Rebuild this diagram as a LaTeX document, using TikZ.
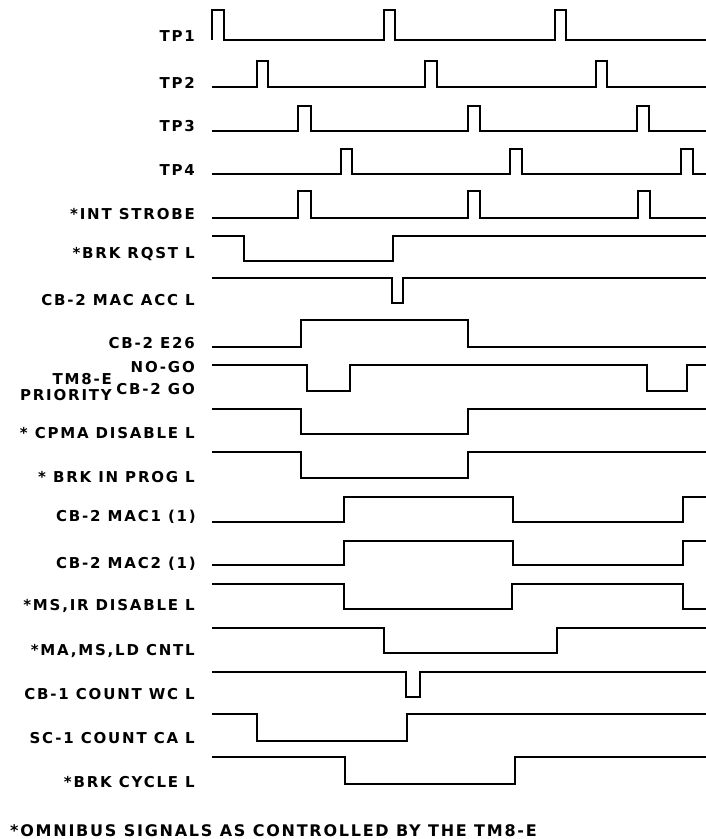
\documentclass[tikz,border=0pt]{standalone}
\usepackage{fontspec}
\newfontfamily\lblfam{DejaVu Sans}[LetterSpace=12]
\newfontfamily\notefam{DejaVu Sans}[LetterSpace=11]
\begin{document}
\begin{tikzpicture}[x=1pt,y=-1pt,
  sig/.style={line width=2.8pt, line join=miter},
  lbl/.style={anchor=base east, inner sep=0pt, font=\fontsize{15}{17}\selectfont\lblfam\bfseries},
  note/.style={anchor=base west, inner sep=0pt, font=\fontsize{16}{19}\selectfont\notefam\bfseries}]
\useasboundingbox (0,0) rectangle (706,839);
% labels
\node[lbl] (l1) at (195,41) {TP1};
\node[lbl] (l2) at (195,88) {TP2};
\node[lbl] (l3) at (195,131) {TP3};
\node[lbl] (l4) at (195,175) {TP4};
\node[lbl] (l5) at (195,219) {*INT STROBE};
\node[lbl] (l6) at (195,258) {*BRK RQST L};
\node[lbl] (l7) at (195,305) {CB-2 MAC ACC L};
\node[lbl] (l8) at (195,348) {CB-2 E26};
\node[lbl] (l9a) at (195,372) {NO-GO};
\node[lbl] (l9b) at (195,394) {CB-2 GO};
\node[lbl] (l9c) at (112,384) {TM8-E};
\node[lbl] (l9d) at (112,400) {PRIORITY};
\node[lbl] (l10) at (195,438) {* CPMA DISABLE L};
\node[lbl] (l11) at (195,482) {* BRK IN PROG L};
\node[lbl] (l12) at (196,521) {CB-2 MAC1 (1)};
\node[lbl] (l13) at (196,568) {CB-2 MAC2 (1)};
\node[lbl] (l14) at (195,610) {*MS,IR DISABLE L};
\node[lbl] (l15) at (195,655) {*MA,MS,LD CNTL};
\node[lbl] (l16) at (195,699) {CB-1 COUNT WC L};
\node[lbl] (l17) at (195,743) {SC-1 COUNT CA L};
\node[lbl] (l18) at (195,787) {*BRK CYCLE L};
\node[note] (fn) at (10,836) {*OMNIBUS SIGNALS AS CONTROLLED BY THE TM8-E};
% waveforms
% TP1
\draw[sig] (212,40) -- (212,10) -- (224,10) -- (224,40) -- (384,40) -- (384,10) -- (395,10) -- (395,40) -- (555,40) -- (555,10) -- (566,10) -- (566,40) -- (706,40);
% TP2
\draw[sig] (212,87) -- (257,87) -- (257,61) -- (268,61) -- (268,87) -- (425,87) -- (425,61) -- (437,61) -- (437,87) -- (596,87) -- (596,61) -- (607,61) -- (607,87) -- (706,87);
% TP3
\draw[sig] (212,131) -- (298,131) -- (298,106) -- (311,106) -- (311,131) -- (468,131) -- (468,106) -- (480,106) -- (480,131) -- (637,131) -- (637,106) -- (649,106) -- (649,131) -- (706,131);
% TP4
\draw[sig] (212,174) -- (341,174) -- (341,149) -- (352,149) -- (352,174) -- (510,174) -- (510,149) -- (522,149) -- (522,174) -- (681,174) -- (681,149) -- (693,149) -- (693,174) -- (706,174);
% INT STROBE
\draw[sig] (212,218) -- (298,218) -- (298,191) -- (311,191) -- (311,218) -- (468,218) -- (468,191) -- (480,191) -- (480,218) -- (638,218) -- (638,191) -- (650,191) -- (650,218) -- (706,218);
% BRK RQST L
\draw[sig] (212,236) -- (244,236) -- (244,261) -- (393,261) -- (393,236) -- (706,236);
% CB-2 MAC ACC L
\draw[sig] (212,278) -- (392,278) -- (392,303) -- (403,303) -- (403,278) -- (706,278);
% CB-2 E26
\draw[sig] (212,347) -- (301,347) -- (301,320) -- (468,320) -- (468,347) -- (706,347);
% TM8-E PRIORITY
\draw[sig] (212,365) -- (307,365) -- (307,391) -- (350,391) -- (350,365) -- (647,365) -- (647,391) -- (687,391) -- (687,365) -- (706,365);
% CPMA DISABLE L
\draw[sig] (212,409) -- (301,409) -- (301,434) -- (468,434) -- (468,409) -- (706,409);
% BRK IN PROG L
\draw[sig] (212,452) -- (301,452) -- (301,478) -- (468,478) -- (468,452) -- (706,452);
% MAC1
\draw[sig] (212,522) -- (344,522) -- (344,497) -- (513,497) -- (513,522) -- (683,522) -- (683,497) -- (706,497);
% MAC2
\draw[sig] (212,565) -- (344,565) -- (344,541) -- (513,541) -- (513,565) -- (683,565) -- (683,541) -- (706,541);
% MS,IR DISABLE L
\draw[sig] (212,584) -- (344,584) -- (344,609) -- (512,609) -- (512,584) -- (683,584) -- (683,609) -- (706,609);
% MA,MS,LD CNTL
\draw[sig] (212,628) -- (384,628) -- (384,653) -- (557,653) -- (557,628) -- (706,628);
% CB-1 COUNT WC L
\draw[sig] (212,672) -- (406,672) -- (406,697) -- (420,697) -- (420,672) -- (706,672);
% SC-1 COUNT CA L
\draw[sig] (212,714) -- (257,714) -- (257,741) -- (407,741) -- (407,714) -- (706,714);
% BRK CYCLE L
\draw[sig] (212,757) -- (345,757) -- (345,784) -- (515,784) -- (515,757) -- (706,757);
\end{tikzpicture}
\end{document}
